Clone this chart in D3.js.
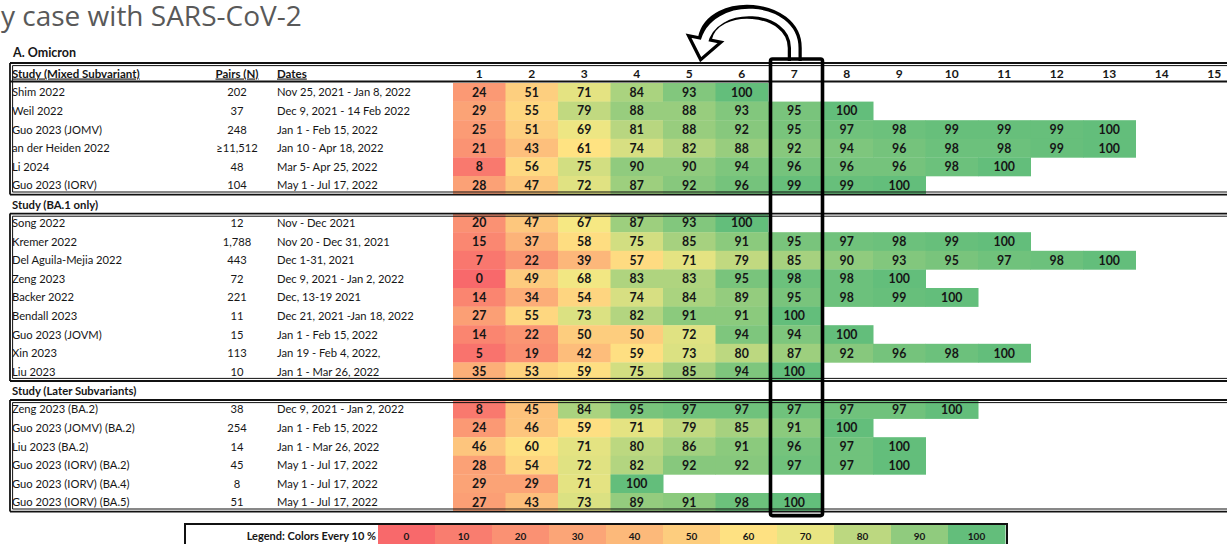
<!DOCTYPE html>
<html><head><meta charset="utf-8">
<script src="https://cdn.jsdelivr.net/npm/d3@7"></script>
<style>
body{margin:0;background:#fff;}
svg{display:block;font-family:Lato,"Noto Sans",sans-serif;}
</style></head>
<body>
<svg id="chart" width="1227" height="544"></svg>
<script>
// ---------- DATA ----------
const pageTitle = "y case with SARS-CoV-2";
const panelTitle = "A. Omicron";
const headerPairs = "Pairs (N)";
const headerDates = "Dates";
const columns = [1,2,3,4,5,6,7,8,9,10,11,12,13,14,15];
const highlightColumn = 7;

const sectionTitles = ["Study (Mixed Subvariant)", "Study (BA.1 only)", "Study (Later Subvariants)"];

const studiesMixed = ["Shim 2022","Weil 2022","Guo 2023 (JOMV)","an der Heiden 2022","Li 2024","Guo 2023 (IORV)"];
const pairsMixed = ["202","37","248","\u226511,512","48","104"];
const datesMixed = ["Nov 25, 2021 - Jan 8, 2022","Dec 9, 2021 - 14 Feb 2022","Jan 1 - Feb 15, 2022","Jan 10 - Apr 18, 2022","Mar 5- Apr 25, 2022","May 1 - Jul 17, 2022"];
const valuesMixed = [
  [24,51,71,84,93,100],
  [29,55,79,88,88,93,95,100],
  [25,51,69,81,88,92,95,97,98,99,99,99,100],
  [21,43,61,74,82,88,92,94,96,98,98,99,100],
  [8,56,75,90,90,94,96,96,96,98,100],
  [28,47,72,87,92,96,99,99,100]
];

const studiesBA1 = ["Song 2022","Kremer 2022","Del Aguila-Mejia 2022","Zeng 2023","Backer 2022","Bendall 2023","Guo 2023 (JOVM)","Xin 2023","Liu 2023"];
const pairsBA1 = ["12","1,788","443","72","221","11","15","113","10"];
const datesBA1 = ["Nov - Dec 2021","Nov 20 - Dec 31, 2021","Dec 1-31, 2021","Dec 9, 2021 - Jan 2, 2022","Dec, 13-19 2021","Dec 21, 2021 -Jan 18, 2022","Jan 1 - Feb 15, 2022","Jan 19 - Feb 4, 2022,","Jan 1 - Mar 26, 2022"];
const valuesBA1 = [
  [20,47,67,87,93,100],
  [15,37,58,75,85,91,95,97,98,99,100],
  [7,22,39,57,71,79,85,90,93,95,97,98,100],
  [0,49,68,83,83,95,98,98,100],
  [14,34,54,74,84,89,95,98,99,100],
  [27,55,73,82,91,91,100],
  [14,22,50,50,72,94,94,100],
  [5,19,42,59,73,80,87,92,96,98,100],
  [35,53,59,75,85,94,100]
];

const studiesLater = ["Zeng 2023 (BA.2)","Guo 2023 (JOMV) (BA.2)","Liu 2023 (BA.2)","Guo 2023 (IORV) (BA.2)","Guo 2023 (IORV) (BA.4)","Guo 2023 (IORV) (BA.5)"];
const pairsLater = ["38","254","14","45","8","51"];
const datesLater = ["Dec 9, 2021 - Jan 2, 2022","Jan 1 - Feb 15, 2022","Jan 1 - Mar 26, 2022","May 1 - Jul 17, 2022","May 1 - Jul 17, 2022","May 1 - Jul 17, 2022"];
const valuesLater = [
  [8,45,84,95,97,97,97,97,97,100],
  [24,46,59,71,79,85,91,100],
  [46,60,71,80,86,91,96,97,100],
  [28,54,72,82,92,92,97,97,100],
  [29,29,71,100],
  [27,43,73,89,91,98,100]
];

const legendLabel = "Legend: Colors Every 10 %";
const legendValues = [0,10,20,30,40,50,60,70,80,90,100];

// ---------- LAYOUT ----------
const W = 1227, H = 544;
const svg = d3.select("#chart");
const sections = [
  {title: sectionTitles[0], studies: studiesMixed, pairs: pairsMixed, dates: datesMixed, values: valuesMixed},
  {title: sectionTitles[1], studies: studiesBA1, pairs: pairsBA1, dates: datesBA1, values: valuesBA1},
  {title: sectionTitles[2], studies: studiesLater, pairs: pairsLater, dates: datesLater, values: valuesLater}
];

const color = d3.scaleLinear().domain([0,65,100]).range(["#F8696B","#FFEB84","#63BE7B"]).interpolate(d3.interpolateRgb);
const x = d3.scaleBand().domain(columns).range([453, 453 + 52.5*columns.length]);
const bw = x.bandwidth();

const tableTop = 63, headH = 20, rowH = 18.6, secH = 19;
const xName = 12, xPairs = 237, xDates = 277, xLeft = 10;
const ink = "#161616";

let cursor = tableTop;
sections.forEach((s, i) => {
  if (i === 0) {
    s.boxTop = cursor; s.headTop = cursor; s.rowsTop = cursor + headH;
  } else {
    s.headTop = cursor; s.boxTop = cursor + secH; s.rowsTop = s.boxTop;
  }
  s.y = d3.scaleBand().domain(d3.range(s.studies.length)).range([s.rowsTop, s.rowsTop + rowH * s.studies.length]);
  s.bottom = s.rowsTop + rowH * s.studies.length;
  cursor = s.bottom;
});
const tableBottom = cursor;

// title (left part cut off in the source slide)
const title = svg.append("text").attr("x", 1).attr("y", 26)
  .attr("font-family", "'Open Sans', Lato, sans-serif")
  .attr("font-size", 26).attr("fill", "#595959").text(pageTitle);
const tl = title.node().getComputedTextLength();
if (tl > 0) title.attr("font-size", Math.min(28, 26 * 347 / tl));

svg.append("text").attr("x", xName + 1).attr("y", 57)
  .attr("font-size", 12.5).attr("font-weight", 700).attr("fill", ink).text(panelTitle);

// cells
sections.forEach(s => {
  const g = svg.append("g");
  s.values.forEach((vals, r) => {
    const cells = vals.map((v, c) => ({v, col: columns[c]}));
    g.selectAll(null).data(cells).enter().append("rect")
      .attr("x", d => x(d.col)).attr("y", s.y(r))
      .attr("width", bw + 0.5).attr("height", s.y.bandwidth() + 0.3)
      .attr("fill", d => color(d.v));
    g.selectAll(null).data(cells).enter().append("text")
      .attr("x", d => x(d.col) + bw/2).attr("y", s.y(r) + s.y.bandwidth()/2 + 4.5)
      .attr("text-anchor", "middle").attr("font-size", 12.3).attr("font-weight", 700)
      .attr("fill", ink).text(d => d.v);
  });
  const ty = r => s.y(r) + s.y.bandwidth()/2 + 4;
  g.selectAll(null).data(s.studies).enter().append("text")
    .attr("x", xName).attr("y", (d, r) => ty(r)).attr("font-size", 11.2).attr("fill", ink).text(d => d);
  g.selectAll(null).data(s.pairs).enter().append("text")
    .attr("x", xPairs).attr("y", (d, r) => ty(r)).attr("text-anchor", "middle").attr("font-size", 11.2).attr("fill", ink).text(d => d);
  g.selectAll(null).data(s.dates).enter().append("text")
    .attr("x", xDates).attr("y", (d, r) => ty(r)).attr("font-size", 11.2).attr("fill", ink).text(d => d);
});

// headers
const s0 = sections[0];
const hy = s0.headTop + headH/2 + 4.5;
svg.append("text").attr("x", xName).attr("y", hy).attr("font-size", 11.5).attr("font-weight", 700)
  .attr("text-decoration", "underline").attr("fill", ink).text(s0.title);
svg.append("text").attr("x", xPairs).attr("y", hy).attr("text-anchor", "middle").attr("font-size", 11.5).attr("font-weight", 700)
  .attr("text-decoration", "underline").attr("fill", ink).text(headerPairs);
svg.append("text").attr("x", xDates).attr("y", hy).attr("font-size", 11.5).attr("font-weight", 700)
  .attr("text-decoration", "underline").attr("fill", ink).text(headerDates);
svg.selectAll(null).data(columns).enter().append("text")
  .attr("x", d => x(d) + bw/2).attr("y", hy).attr("text-anchor", "middle")
  .attr("font-size", 12).attr("font-weight", 700).attr("fill", ink).text(d => d);
sections.slice(1).forEach(s => {
  svg.append("text").attr("x", xName).attr("y", s.headTop + secH/2 + 4.5).attr("font-size", 11.3)
    .attr("font-weight", 700).attr("fill", ink).text(s.title);
});

// borders (double lines)
const lines = svg.append("g").attr("stroke", "#111").attr("fill", "none");
function hDouble(y, dir) {
  lines.append("line").attr("x1", xLeft).attr("x2", W).attr("y1", y).attr("y2", y).attr("stroke-width", 1.8);
  lines.append("line").attr("x1", xLeft + 2.5).attr("x2", W).attr("y1", y + dir*2.6).attr("y2", y + dir*2.6).attr("stroke-width", 1);
}
function vDouble(y1, y2) {
  lines.append("line").attr("x1", xLeft).attr("x2", xLeft).attr("y1", y1).attr("y2", y2).attr("stroke-width", 1.8);
  lines.append("line").attr("x1", xLeft + 2.6).attr("x2", xLeft + 2.6).attr("y1", y1 + 2.6).attr("y2", y2 - 2.6).attr("stroke-width", 1);
}
sections.forEach((s, i) => {
  hDouble(s.boxTop, 1);
  hDouble(s.bottom, -1);
  vDouble(s.boxTop, s.bottom);
  if (i === 0) {
    lines.append("line").attr("x1", xLeft).attr("x2", W).attr("y1", s.rowsTop - 1.5).attr("y2", s.rowsTop - 1.5).attr("stroke-width", 1.8);
  }
});

// curved arrow annotation from column 7 back toward column 5
const cx7 = x(highlightColumn) + bw/2 + 0.5;
const boxTop7 = tableTop - 4;
const p0 = [cx7, boxTop7 + 2], p1 = [cx7, boxTop7 - 11];
const c1 = [cx7, boxTop7 - 55], c2 = [cx7 - 82, boxTop7 - 60], pe = [cx7 - 90, boxTop7 - 20];
const dirLen = Math.hypot(pe[0]-c2[0], pe[1]-c2[1]);
const dir = [(pe[0]-c2[0])/dirLen, (pe[1]-c2[1])/dirLen];
const perp = [-dir[1], dir[0]];
const shaft = d3.path();
shaft.moveTo(p0[0], p0[1]); shaft.lineTo(p1[0], p1[1]);
shaft.bezierCurveTo(c1[0], c1[1], c2[0], c2[1], pe[0], pe[1]);
const shaftIn = d3.path();
shaftIn.moveTo(p0[0], p0[1] + 1); shaftIn.lineTo(p1[0], p1[1]);
shaftIn.bezierCurveTo(c1[0], c1[1], c2[0], c2[1], pe[0] + dir[0]*5, pe[1] + dir[1]*5);
const arrow = svg.append("g");
arrow.append("path").attr("d", shaft.toString()).attr("fill", "none").attr("stroke", "#000").attr("stroke-width", 14);
const hw = 16.5, hl = 21;
const head = [
  [pe[0] + perp[0]*hw, pe[1] + perp[1]*hw],
  [pe[0] + dir[0]*hl, pe[1] + dir[1]*hl],
  [pe[0] - perp[0]*hw, pe[1] - perp[1]*hw]
];
arrow.append("polygon").attr("points", head.map(p => p.join(",")).join(" "))
  .attr("fill", "#fff").attr("stroke", "#000").attr("stroke-width", 3.2).attr("stroke-linejoin", "miter");
arrow.append("path").attr("d", shaftIn.toString()).attr("fill", "none").attr("stroke", "#fff").attr("stroke-width", 7.5);

// highlight box around column 7
svg.append("rect").attr("x", x(highlightColumn) + 2.5).attr("y", boxTop7)
  .attr("width", bw - 0.5).attr("height", tableBottom + 4 - boxTop7)
  .attr("rx", 2).attr("fill", "none").attr("stroke", "#000").attr("stroke-width", 3.6);

// legend
const lx = d3.scaleBand().domain(legendValues).range([378, 1005]);
const legTop = 525, legH = 22;
const leg = svg.append("g");
leg.selectAll(null).data(legendValues).enter().append("rect")
  .attr("x", d => lx(d)).attr("y", legTop).attr("width", lx.bandwidth() + 0.5).attr("height", legH)
  .attr("fill", d => color(d));
leg.selectAll(null).data(legendValues).enter().append("text")
  .attr("x", d => lx(d) + lx.bandwidth()/2).attr("y", legTop + 14.5).attr("text-anchor", "middle")
  .attr("font-size", 10).attr("font-weight", 700).attr("fill", ink).text(d => d);
leg.append("text").attr("x", 376).attr("y", legTop + 14.5).attr("text-anchor", "end")
  .attr("font-size", 11).attr("font-weight", 700).attr("fill", ink).text(legendLabel);
leg.append("rect").attr("x", 185).attr("y", legTop - 1).attr("width", 822).attr("height", legH + 4)
  .attr("fill", "none").attr("stroke", "#111").attr("stroke-width", 2);
</script>
</body></html>
